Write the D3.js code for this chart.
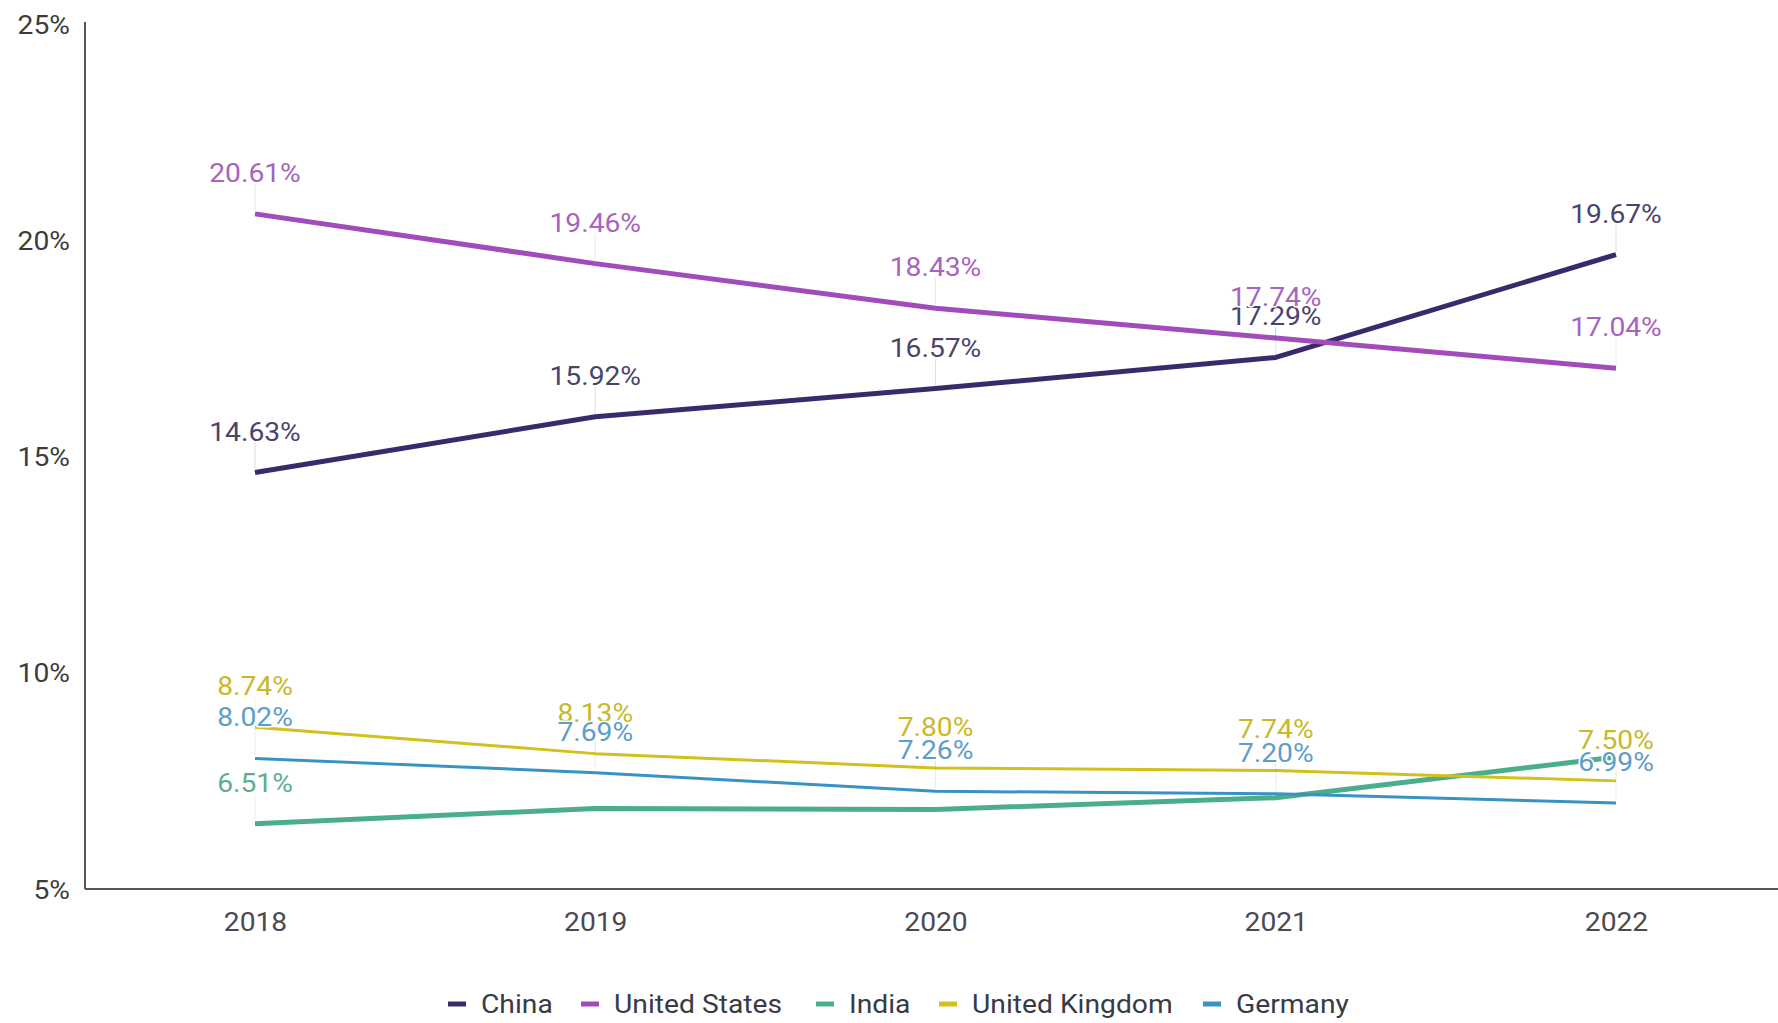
<!DOCTYPE html>
<html>
<head>
<meta charset="utf-8">
<script src="https://cdn.jsdelivr.net/npm/d3@7"></script>
<style>
  html, body { margin: 0; padding: 0; background: #fff; }
  svg text { font-family: Roboto, "Noto Sans", sans-serif; }
</style>
</head>
<body>
<svg id="chart" width="1778" height="1023"></svg>
<script>
// ---- data ----
const years = ["2018", "2019", "2020", "2021", "2022"];
const yTicks = [5, 10, 15, 20, 25];
const seriesNames = ["China", "United States", "India", "United Kingdom", "Germany"];
const china = [14.63, 15.92, 16.57, 17.29, 19.67];
const unitedStates = [20.61, 19.46, 18.43, 17.74, 17.04];
const india = [6.51, 6.86, 6.84, 7.11, 8.05];
const unitedKingdom = [8.74, 8.13, 7.80, 7.74, 7.50];
const germany = [8.02, 7.69, 7.26, 7.20, 6.99];
// which point labels are displayed (the others are hidden in the original)
const indiaLabelShown = [true, false, false, false, false];

// ---- styles ----
const lineColors = ["#3b2a6b", "#a14cb9", "#4aae8c", "#d2c01c", "#3893c4"];
const labelColors = ["#4a436e", "#a664be", "#5cae8f", "#c9b82a", "#5d9dc9"];
const lineWidths = [5, 5, 5, 3, 3];
const SX = 1.13; // horizontal text stretch of the reference

const series = [
  { name: seriesNames[0], values: china, shown: years.map(() => true) },
  { name: seriesNames[1], values: unitedStates, shown: years.map(() => true) },
  { name: seriesNames[2], values: india, shown: indiaLabelShown },
  { name: seriesNames[3], values: unitedKingdom, shown: years.map(() => true) },
  { name: seriesNames[4], values: germany, shown: years.map(() => true) }
];

const svg = d3.select("#chart");
const x = d3.scalePoint().domain(years).range([255, 1616]);
const y = d3.scaleLinear().domain([5, 25]).range([889, 24]);
const axisLeftX = 85;

function stretchText(sel) {
  return sel.attr("transform", d => `translate(${d._x},${d._y}) scale(${SX},1)`);
}

// axes lines
svg.append("line").attr("x1", axisLeftX).attr("x2", axisLeftX)
  .attr("y1", y(25) - 2).attr("y2", y(5))
  .attr("stroke", "#555").attr("stroke-width", 2);
svg.append("line").attr("x1", axisLeftX).attr("x2", 1778)
  .attr("y1", y(5)).attr("y2", y(5))
  .attr("stroke", "#555").attr("stroke-width", 2);

// y tick labels via d3 axis
const yAxis = svg.append("g").attr("transform", `translate(${axisLeftX},0)`)
  .call(d3.axisLeft(y).tickValues(yTicks).tickFormat(d => d + "%").tickSize(0).tickPadding(15));
yAxis.select(".domain").remove();
yAxis.selectAll("text")
  .attr("font-size", 25).attr("fill", "#3c3c3c").attr("dy", "0.36em")
  .attr("x", null)
  .attr("transform", `translate(-15,0) scale(${SX},1)`)
  .attr("font-family", "Roboto, sans-serif");

// x tick labels via d3 axis
const xAxis = svg.append("g").attr("transform", `translate(0,${y(5)})`)
  .call(d3.axisBottom(x).tickSize(0).tickPadding(18));
xAxis.select(".domain").remove();
xAxis.selectAll("text")
  .attr("font-size", 25).attr("fill", "#4a4a55")
  .attr("y", null).attr("dy", null)
  .attr("transform", `translate(0,42) scale(${SX},1)`)
  .attr("font-family", "Roboto, sans-serif");

// lines
const line = d3.line().x((d, i) => x(years[i])).y(d => y(d)).curve(d3.curveLinear);
series.forEach((s, k) => {
  svg.append("path").datum(s.values)
    .attr("d", line)
    .attr("fill", "none")
    .attr("stroke", lineColors[k])
    .attr("stroke-width", lineWidths[k])
    .attr("stroke-linejoin", "round");
});

// leader lines
series.forEach((s, k) => {
  s.values.forEach((v, i) => {
    if (!s.shown[i]) return;
    svg.append("line")
      .attr("x1", x(years[i])).attr("x2", x(years[i]))
      .attr("y1", y(v) - 30).attr("y2", y(v) - 3)
      .attr("stroke", labelColors[k]).attr("stroke-opacity", 0.18).attr("stroke-width", 1);
  });
});

// value labels
series.forEach((s, k) => {
  const pts = s.values.map((v, i) => ({ v, i, _x: x(years[i]), _y: y(v) - 32 })).filter(d => s.shown[d.i]);
  svg.append("g").selectAll("text").data(pts).join("text")
    .call(stretchText)
    .attr("text-anchor", "middle")
    .attr("font-size", 25)
    .attr("fill", labelColors[k])
    .attr("stroke", "#fff").attr("stroke-width", 3).attr("paint-order", "stroke")
    .attr("stroke-linejoin", "round")
    .text(d => d.v.toFixed(2) + "%");
});

// legend
const legendX = [457, 590, 825, 948, 1212];
const legendY = 1004;
const lg = svg.append("g");
series.forEach((s, k) => {
  lg.append("rect")
    .attr("x", legendX[k] - 9).attr("y", legendY - 2.5)
    .attr("width", 18).attr("height", 5)
    .attr("fill", lineColors[k]);
  lg.append("text")
    .datum({ _x: legendX[k] + 24, _y: legendY + 9 })
    .call(stretchText)
    .attr("font-size", 25).attr("fill", "#3a3a45")
    .text(s.name);
});
</script>
</body>
</html>
